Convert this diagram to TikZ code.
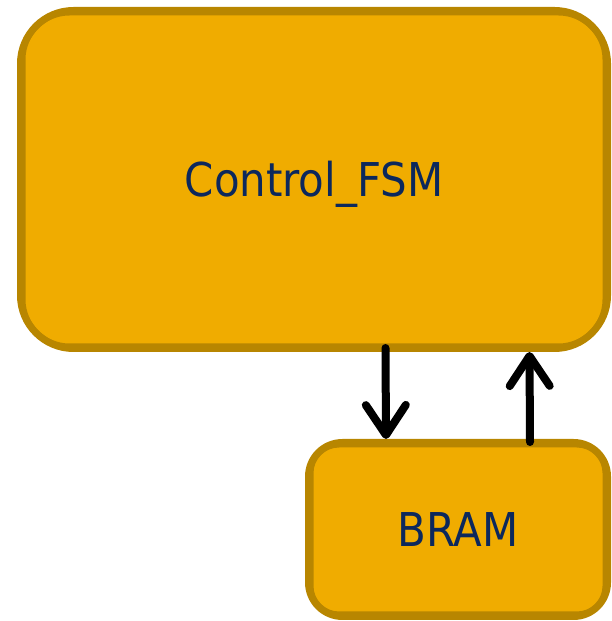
\documentclass[tikz,border=0pt]{standalone}
\usepackage{fontspec}
\newfontfamily\labelfont{DejaVu Sans Condensed}
\usetikzlibrary{arrows.meta,calc}

\definecolor{boxfill}{RGB}{240,172,0}
\definecolor{boxedge}{RGB}{184,134,0}
\definecolor{labelblue}{RGB}{12,40,92}

\tikzset{
  block/.style={draw=boxedge, fill=boxfill, line width=7pt,
    font=\labelfont\fontsize{46.6}{50}\selectfont, text=labelblue,
    text height=34pt, text depth=0pt, inner sep=0pt},
  innerline/.style={draw=boxedge, line width=2pt},
  flow/.style={line width=8pt, line cap=round,
    -{Straight Barb[length=30pt, width=40pt, round]}}
}

\begin{document}
\begin{tikzpicture}[x=1pt, y=1pt]
  \useasboundingbox (0,0) rectangle (612,621);

  % control state machine
  \node[block, rounded corners=53pt, minimum width=587pt, minimum height=338pt]
    (fsm) at (314,441.5) {Control\_FSM};
  \draw[innerline, rounded corners=45pt]
    ($(fsm.south west)+(7.5,7.5)$) rectangle ($(fsm.north east)+(-7.5,-7.5)$);

  % block RAM
  \node[block, rounded corners=34pt, minimum width=299pt, minimum height=174pt]
    (bram) at (458,91.5) {BRAM};
  \draw[innerline, rounded corners=26.5pt]
    ($(bram.south west)+(7.5,7.5)$) rectangle ($(bram.north east)+(-7.5,-7.5)$);

  % data paths between the two blocks
  \draw[flow] ([shift={(368.5pt,4pt)}]fsm.south west) -- ([xshift=81pt]bram.north west);
  \draw[flow] ([shift={(225pt,-3pt)}]bram.north west) -- ([xshift=512.5pt]fsm.south west);
\end{tikzpicture}
\end{document}
